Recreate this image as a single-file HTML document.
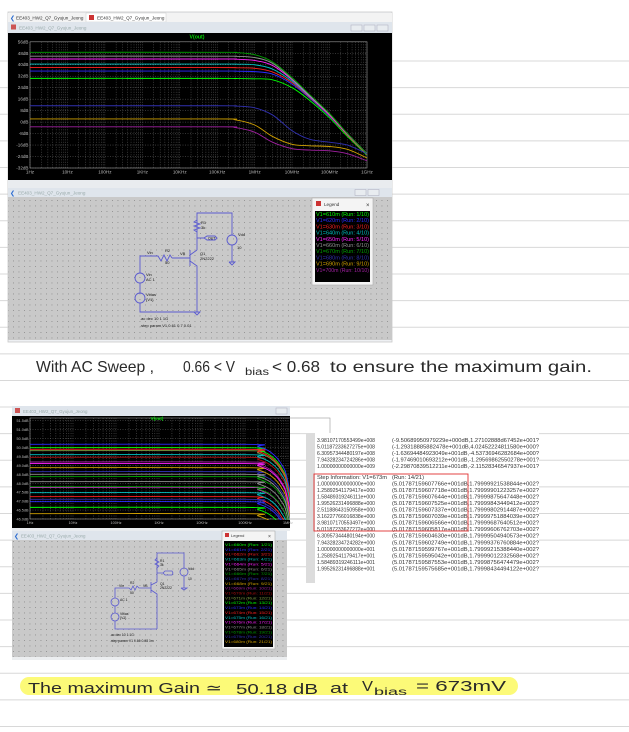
<!DOCTYPE html>
<html><head><meta charset="utf-8">
<style>
html,body{margin:0;padding:0;background:#fff;}
svg{display:block;font-family:"Liberation Sans",sans-serif;}
</style></head>
<body>
<svg id="pg" width="629" height="732" viewBox="0 0 629 732" xmlns="http://www.w3.org/2000/svg">
<defs>
<pattern id="dots" x="0" y="0" width="5.5" height="5.5" patternUnits="userSpaceOnUse"><rect x="2" y="2" width="0.9" height="0.9" fill="#8a8a8a"/></pattern>
<clipPath id="clipTop"><rect x="30" y="33" width="337" height="147"/></clipPath>
<clipPath id="clipBot"><rect x="30" y="416" width="260" height="104"/></clipPath>
<clipPath id="clipTbl"><rect x="306" y="433" width="233" height="150"/></clipPath>
</defs>
<g id="rules"></g>

<!-- TOP WINDOW -->
<g>
<rect x="8" y="12" width="384" height="330" fill="#eef0f3" stroke="#c9c9c9" stroke-width="0.8"/>
<rect x="8" y="13" width="384" height="9" fill="#f3f3f3"/>
<text x="10" y="20" font-size="6" fill="#2a6bd0">❮</text>
<text x="16" y="19.5" font-size="4.6" fill="#333">EE403_HW2_Q7_Gyujun_Jeong</text>
<rect x="86" y="13" width="80" height="9" fill="#fff" stroke="#ccc" stroke-width="0.5"/>
<rect x="89" y="15" width="5" height="5" fill="#c33"/>
<text x="97" y="19.5" font-size="4.6" fill="#333">EE403_HW2_Q7_Gyujun_Jeong</text>
<rect x="8" y="22" width="384" height="11" fill="#dfe5ec"/>
<rect x="11" y="24.5" width="5" height="5" fill="#c55"/>
<text x="19" y="29.5" font-size="4.6" fill="#9aa">EE403_HW2_Q7_Gyujun_Jeong</text>
<g>
<rect x="351" y="25" width="11" height="6" fill="#e8ecf0" stroke="#aab" stroke-width="0.5"/>
<rect x="364" y="25" width="11" height="6" fill="#e8ecf0" stroke="#aab" stroke-width="0.5"/>
<rect x="377" y="25" width="11" height="6" fill="#e8ecf0" stroke="#aab" stroke-width="0.5"/>
</g>
<rect x="8" y="33" width="384" height="147" fill="#000"/>
<g id="topPlot"></g>
<rect x="8" y="180" width="384" height="8" fill="#e9ecef"/>
<rect x="8" y="188" width="384" height="9" fill="#dfe5ec"/>
<text x="10" y="195" font-size="6" fill="#2a6bd0">❮</text>
<text x="18" y="194.5" font-size="4.6" fill="#9aa">EE403_HW2_Q7_Gyujun_Jeong</text>
<rect x="355" y="189.5" width="11" height="6" fill="#e8ecf0" stroke="#aab" stroke-width="0.5"/>
<rect x="368" y="189.5" width="11" height="6" fill="#e8ecf0" stroke="#aab" stroke-width="0.5"/>
<rect x="8" y="197" width="384" height="143" fill="#c9c9c9"/>
<rect x="8" y="197" width="384" height="143" fill="url(#dots)"/>
<g stroke="#5a5ad0" stroke-width="0.9" fill="none">
<polyline points="197,250 197,213 232,213 232,235"/>
<circle cx="232" cy="240" r="5"/>
<polyline points="232,245 232,262"/>
<polyline points="229,262 235,262 232,265 229,262"/>
<polyline points="197,220 194,222 200,224 194,226 200,228 194,230 197,232"/>
<polyline points="190,250 190,266"/>
<polyline points="190,255 197,250"/><polyline points="190,261 197,266 197,312"/>
<polyline points="190,258 172,258"/>
<polyline points="172,258 170,255 167,261 164,255 161,261 158,256 150,256 140,256 140,273"/>
<circle cx="140" cy="278" r="5"/><polyline points="140,283 140,293"/>
<circle cx="140" cy="298" r="5"/><polyline points="140,303 140,312 197,312"/>
<polyline points="194,312 200,312 197,315 194,312"/>
<polyline points="197,238 204,238 207,236 215,236 217,238 215,240 207,240 204,238"/>
</g>
<g font-size="4" fill="#111">
<text x="201" y="224">R1</text><text x="201" y="229">3k</text>
<text x="208" y="239.5" font-size="3.6">OUT</text>
<text x="238" y="236">Vdd</text><text x="237" y="249">10</text>
<text x="200" y="255">Q1</text><text x="200" y="260">2N2222</text>
<text x="165" y="252">R2</text><text x="165" y="264">50</text>
<text x="180" y="255">VB</text><text x="147" y="254">Vin</text>
<text x="146" y="276">Vin</text><text x="146" y="281">AC 1</text>
<text x="146" y="296">Vbias</text><text x="146" y="301">{V1}</text>
<text x="140" y="320">.ac dec 10 1 1G</text>
<text x="140" y="327">.step param V1 0.61 0.7 0.01</text>
</g>
<g>
<rect x="312" y="198" width="61" height="87" fill="#f4f4f4" stroke="#aaa" stroke-width="0.6"/>
<rect x="316" y="201" width="5" height="5" fill="#c33"/>
<text x="324" y="206" font-size="4.6" fill="#333">Legend</text>
<text x="366" y="207" font-size="6" fill="#333">×</text>
<rect x="315" y="211" width="55" height="71" fill="#000"/>
<g id="topLegendRows"></g>
</g>
</g>

<!-- handwritten sentence 1 -->
<g fill="#2a2a2a" font-size="16">
<text x="36" y="372" textLength="118" lengthAdjust="spacingAndGlyphs">With AC Sweep ,</text>
<text x="183" y="372" textLength="52" lengthAdjust="spacingAndGlyphs">0.66 &lt; V</text>
<text x="245" y="375" font-size="10" textLength="24" lengthAdjust="spacingAndGlyphs">bias</text>
<text x="272" y="372" textLength="48" lengthAdjust="spacingAndGlyphs">&lt; 0.68</text>
<text x="330" y="372" textLength="262" lengthAdjust="spacingAndGlyphs">to ensure the maximum gain.</text>
</g>

<!-- BOTTOM PLOT WINDOW -->
<g>
<rect x="12" y="406" width="278" height="10" fill="#dfe5ec"/>
<rect x="15" y="408" width="5" height="5" fill="#c55"/>
<text x="23" y="413" font-size="4.4" fill="#9aa">EE403_HW2_Q7_Gyujun_Jeong</text>
<rect x="276" y="408" width="11" height="6" fill="#e8ecf0" stroke="#aab" stroke-width="0.5"/>
<rect x="12" y="416" width="278" height="112" fill="#000"/>
<g id="botPlot"></g>
<rect x="12" y="528" width="278" height="3" fill="#e9ecef"/>
<rect x="12" y="531" width="275" height="9" fill="#dfe5ec"/>
<text x="14" y="538" font-size="6" fill="#2a6bd0">❮</text>
<text x="21" y="537.5" font-size="4.4" fill="#9aa">EE403_HW2_Q7_Gyujun_Jeong</text>
<rect x="12" y="540" width="275" height="117" fill="#c9c9c9"/>
<rect x="12" y="540" width="275" height="117" fill="url(#dots)"/>
<rect x="12" y="657" width="275" height="3" fill="#eceef0"/>
<g stroke="#5a5ad0" stroke-width="0.8" fill="none">
<polyline points="157,582 157,553 184,553 184,568"/>
<circle cx="184" cy="572" r="4"/><polyline points="184,576 184,588"/>
<polyline points="181,588 187,588 184,590 181,588"/>
<polyline points="157,558 155,560 159,562 155,564 159,566 157,568"/>
<polyline points="151,582 151,593"/><polyline points="151,585 157,582"/><polyline points="151,590 157,594 157,629"/>
<polyline points="151,588 139,588 137,586 135,590 133,586 131,590 129,588 115,588 115,598"/>
<circle cx="115" cy="602" r="4"/><polyline points="115,606 115,613"/>
<circle cx="115" cy="617" r="4"/><polyline points="115,621 115,629 157,629"/>
<polyline points="157,573 163,573 165,571 172,571 173,573 172,575 165,575 163,573"/>
</g>
<g font-size="3.4" fill="#111">
<text x="160" y="562">R1</text><text x="160" y="566">3k</text>
<text x="188" y="570">Vdd</text><text x="188" y="580">10</text>
<text x="160" y="585">Q1</text><text x="160" y="589">2N2222</text>
<text x="130" y="584">R2</text><text x="130" y="594">50</text>
<text x="119" y="587">Vin</text><text x="143" y="587">VB</text>
<text x="120" y="601">AC 1</text><text x="120" y="615">Vbias</text><text x="120" y="619">{V1}</text>
<text x="110" y="636">.ac dec 10 1 1G</text>
<text x="110" y="642">.step param V1 0.66 0.68 1m</text>
</g>
<g>
<rect x="222" y="531" width="53" height="118" fill="#f4f4f4" stroke="#aaa" stroke-width="0.6"/>
<rect x="225" y="533" width="4" height="4" fill="#c33"/>
<text x="231" y="537" font-size="4" fill="#333">Legend</text>
<text x="268" y="538" font-size="5" fill="#333">×</text>
<rect x="224" y="541" width="49" height="106" fill="#000"/>
<g id="botLegendRows"></g>
</g>
</g>

<!-- TABLE SCREENSHOT -->
<g>
<rect x="306" y="433" width="233" height="150" fill="#fff"/>
<rect x="306" y="433" width="9" height="150" fill="#dcdcdc"/>
<g id="tbl" clip-path="url(#clipTbl)" font-size="5.6" fill="#333"></g>
<rect x="314" y="474" width="154" height="57" fill="none" stroke="#e03030" stroke-width="0.9"/>
</g>

<!-- handwritten sentence 2 -->
<rect x="20" y="677" width="498" height="18" rx="9" fill="#fcfa78"/>
<g fill="#2a2a2a" font-size="15">
<text x="28" y="693" textLength="194" lengthAdjust="spacingAndGlyphs">The maximum Gain ≃</text>
<text x="236" y="694" textLength="82" lengthAdjust="spacingAndGlyphs">50.18 dB</text>
<text x="330" y="693" textLength="18" lengthAdjust="spacingAndGlyphs">at</text>
<text x="362" y="691" textLength="11" lengthAdjust="spacingAndGlyphs">V</text>
<text x="374" y="695" font-size="10" textLength="33" lengthAdjust="spacingAndGlyphs">bias</text>
<text x="416" y="691" textLength="90" lengthAdjust="spacingAndGlyphs">= 673mV</text>
</g>
</svg>
<script>
const NS = "http://www.w3.org/2000/svg";
function mk(tag, attrs, parent, txt) {
  const e = document.createElementNS(NS, tag);
  for (const k in attrs) e.setAttribute(k, attrs[k]);
  if (txt !== undefined) e.textContent = txt;
  parent.appendChild(e);
  return e;
}
/* ---------- data: top chart ---------- */
const topFreqs = [1, 1e5, 3e5, 1e6, 3e6, 1e7, 3e7, 1e8, 3e8, 1e9];
const topRunLabels = ["V1=610m (Run: 1/10)","V1=620m (Run: 2/10)","V1=630m (Run: 3/10)","V1=640m (Run: 4/10)","V1=650m (Run: 5/10)","V1=660m (Run: 6/10)","V1=670m (Run: 7/10)","V1=680m (Run: 8/10)","V1=690m (Run: 9/10)","V1=700m (Run: 10/10)"];
const top610 = [30.5, 30.5, 30.4, 30.2, 29.5, 24, 15, 3, -10, -23];
const top620 = [35.6, 35.6, 35.5, 35.2, 33.5, 26.5, 16.5, 4, -9, -22.5];
const top630 = [38, 38, 37.9, 37.5, 35, 27.5, 17, 4.5, -9, -22.5];
const top640 = [40.5, 40.5, 40.4, 40, 37, 28.5, 17.5, 5, -8.5, -22];
const top650 = [44, 44, 43.9, 43, 39.5, 29.5, 18, 5, -8.5, -22];
const top660 = [46, 46, 45.9, 45, 41, 30, 18.5, 5.5, -8, -22];
const top670 = [48.7, 48.7, 48.5, 47, 42, 31, 19, 6, -8, -22];
const top680 = [11.4, 11.4, 11.2, 10, 5, -6, -12, -14, -16, -22];
const top690 = [2.2, 2.2, 1.6, -2, -10, -15.5, -16.5, -17, -19, -25];
const top700 = [-3.3, -3.3, -3.8, -7, -14, -18.5, -19.5, -20, -22, -27];
const topSeries = [top610, top620, top630, top640, top650, top660, top670, top680, top690, top700];
const topYTicks = [56, 48, 40, 32, 24, 16, 8, 0, -8, -16, -24, -32];
const topXTicks = ["1Hz","10Hz","100Hz","1KHz","10KHz","100KHz","1MHz","10MHz","100MHz","1GHz"];
/* ---------- data: bottom chart ---------- */
const botFreqs = [1, 1e5, 2e5, 4e5, 7e5, 1e6, 2e6];
const botRollOff = [0, 0, 0.12, 0.45, 1.1, 2.1, 6];
const botRunLabels = ["V1=660m","V1=661m","V1=662m","V1=663m","V1=664m","V1=665m","V1=666m","V1=667m","V1=668m","V1=669m","V1=670m","V1=671m","V1=672m","V1=673m","V1=674m","V1=675m","V1=676m","V1=677m","V1=678m","V1=679m","V1=680m"];
const botGain = [46.65, 46.97, 47.25, 47.47, 47.77, 48.09, 48.37, 48.65, 48.87, 49.19, 49.45, 49.82, 49.99, 50.18, 49.9, 49.6, 49.1, 48.5, 47.8, 47.1, 46.3];
const botYTicks = [51.5, 51.0, 50.5, 50.0, 49.5, 49.0, 48.5, 48.0, 47.5, 47.0, 46.5, 46.0];
const botXTicks = ["1Hz","10Hz","100Hz","1KHz","10KHz","100KHz","1MHz"];

const palette = ["#00ff00","#2a2aff","#ff2020","#00c0c0","#ff20ff","#909090","#00a000","#3030b0","#d0a000","#a020a0","#b01010","#80a040"];

/* ---------- ruled lines ---------- */
const rules = document.getElementById("rules");
for (let k = 0; ; k++) {
  const y = 61 + 26.62 * k;
  if (y > 732) break;
  const ln = mk("line", {x1: 0, x2: 629, y1: y, y2: y, stroke: "#d8d8d8", "stroke-width": 1}, rules);
  
  
}

/* ---------- generic plot ---------- */
function smoothPath(pts) {
  let d = "M" + pts[0][0].toFixed(2) + "," + pts[0][1].toFixed(2);
  for (let i = 0; i < pts.length - 1; i++) {
    const p0 = pts[Math.max(0, i - 1)], p1 = pts[i], p2 = pts[i + 1], p3 = pts[Math.min(pts.length - 1, i + 2)];
    const c1x = p1[0] + (p2[0] - p0[0]) / 6, c1y = p1[1] + (p2[1] - p0[1]) / 6;
    const c2x = p2[0] - (p3[0] - p1[0]) / 6, c2y = p2[1] - (p3[1] - p1[1]) / 6;
    d += " C" + c1x.toFixed(2) + "," + c1y.toFixed(2) + " " + c2x.toFixed(2) + "," + c2y.toFixed(2) + " " + p2[0].toFixed(2) + "," + p2[1].toFixed(2);
  }
  return d;
}
function drawPlot(g, cfg) {
  const xs = f => cfg.x0 + Math.log10(f) * cfg.dec;
  const ys = v => cfg.yTop + (cfg.yMax - v) * cfg.yScale;
  for (let d = 0; d < cfg.nDec; d++) {
    for (let m = 1; m <= 9; m++) {
      const x = xs(m * Math.pow(10, d));
      if (x > cfg.xClip) continue;
      const gl = mk("line", {x1: x, x2: x, y1: cfg.frameTop, y2: cfg.frameBot, stroke: "#6a6a6a", "stroke-width": 0.5, "stroke-dasharray": "1,1.5"}, g);
      
      
    }
  }
  cfg.yTicks.forEach(v => {
    const y = ys(v);
    const gl = mk("line", {x1: cfg.x0, x2: cfg.xClip, y1: y, y2: y, stroke: "#6a6a6a", "stroke-width": 0.5, "stroke-dasharray": "1,1.5"}, g);
    
    
    const tl = mk("text", {x: cfg.x0 - 1.5, y: y + 1.5, "font-size": cfg.fs, fill: "#bbbbbb", "text-anchor": "end"}, g, cfg.yFmt(v));
    
    
  });
  cfg.xTicks.forEach((lab, i) => {
    const x = xs(Math.pow(10, i));
    const tl = mk("text", {x: x, y: cfg.frameBot + cfg.fs + 1, "font-size": cfg.fs, fill: "#bbbbbb", "text-anchor": "middle"}, g, lab);
    
    
  });
  const fr = mk("rect", {x: cfg.x0, y: cfg.frameTop, width: cfg.frameW, height: cfg.frameBot - cfg.frameTop, fill: "none", stroke: "#9a9a9a", "stroke-width": 0.6}, g);
  
  
  const tt = mk("text", {x: cfg.titleX, y: cfg.titleY, "font-size": cfg.fs + 0.6, fill: "#00e000", "text-anchor": "middle", "font-weight": "bold"}, g, "V(out)");
  
  
  const cg = mk("g", {"clip-path": cfg.clip}, g);
  cfg.series.forEach((vals, i) => {
    const pts = vals.map((v, j) => [xs(cfg.freqs[j]), ys(v)]);
    const p = mk("path", {d: smoothPath(pts), fill: "none", stroke: palette[i % palette.length], "stroke-width": 0.9}, cg);
    
    
  });
}
drawPlot(document.getElementById("topPlot"), {
  x0: 30, dec: 37.44, nDec: 10, xClip: 367, yTop: 41.8, yMax: 56, yScale: 126.2 / 88,
  frameTop: 41.8, frameBot: 168, frameW: 337, fs: 4.6, yTicks: topYTicks, xTicks: topXTicks,
  yFmt: v => v + "dB", titleX: 197, titleY: 38.5, clip: "url(#clipTop)", freqs: topFreqs, series: topSeries
});
const botSeries = botGain.map(g0 => botRollOff.map(r => g0 - r));
drawPlot(document.getElementById("botPlot"), {
  x0: 30, dec: 43, nDec: 7, xClip: 290, yTop: 420.7, yMax: 51.5, yScale: (519 - 420.7) / 5.5,
  frameTop: 418, frameBot: 519, frameW: 300, fs: 3.8, yTicks: botYTicks, xTicks: botXTicks,
  yFmt: v => v.toFixed(1) + "dB", titleX: 157, titleY: 420, clip: "url(#clipBot)", freqs: botFreqs, series: botSeries
});

/* legends */
const tl = document.getElementById("topLegendRows");
topRunLabels.forEach((lab, i) => {
  const t = mk("text", {x: 316, y: 216 + i * 6.2, "font-size": 5, fill: palette[i], textLength: 53, lengthAdjust: "spacingAndGlyphs"}, tl, lab);
  
  
});
const bl = document.getElementById("botLegendRows");
botRunLabels.forEach((lab, i) => {
  const t = mk("text", {x: 225, y: 546 + i * 4.85, "font-size": 4, fill: palette[i % palette.length], textLength: 47, lengthAdjust: "spacingAndGlyphs"}, bl, lab + " (Run: " + (i + 1) + "/21)");
  
  
});

/* table */
const tblRows = [
 ["3.98107170553499e+008","(-9.50689950979229e+000dB,1.27102888d67452e+001?"],
 ["5.01187233627275e+008","(-1.29318885882478e+001dB,4.02452224811580e+000?"],
 ["6.30957344480197e+008","(-1.63694484923049e+001dB,-4.53736946282684e+000?"],
 ["7.94328234724286e+008","(-1.97469010693212e+001dB,-1.29569862550278e+001?"],
 ["1.00000000000000e+009","(-2.29870839512211e+001dB,-2.11528346547937e+001?"],
 ["Step Information: V1=673m","(Run: 14/21)"],
 ["1.00000000000000e+000","(5.01787159607766e+001dB,1.79999921538844e+002?"],
 ["1.25892541179417e+000","(5.01787159607718e+001dB,1.79999901223257e+002?"],
 ["1.58489319246111e+000","(5.01787159607644e+001dB,1.79999875647448e+002?"],
 ["1.99526231496888e+000","(5.01787159607525e+001dB,1.79999843449412e+002?"],
 ["2.51188643150958e+000","(5.01787159607337e+001dB,1.79999802914487e+002?"],
 ["3.16227766016838e+000","(5.01787159607039e+001dB,1.79999751884039e+002?"],
 ["3.98107170553497e+000","(5.01787159606566e+001dB,1.79999687640512e+002?"],
 ["5.01187233627272e+000","(5.01787159605817e+001dB,1.79999606762703e+002?"],
 ["6.30957344480194e+000","(5.01787159604630e+001dB,1.79999504940573e+002?"],
 ["7.94328234724282e+000","(5.01787159602749e+001dB,1.79999376760884e+002?"],
 ["1.00000000000000e+001","(5.01787159599767e+001dB,1.79999215388440e+002?"],
 ["1.25892541179417e+001","(5.01787159595042e+001dB,1.79999012232568e+002?"],
 ["1.58489319246111e+001","(5.01787159587553e+001dB,1.79998756474479e+002?"],
 ["1.99526231496888e+001","(5.01787159575685e+001dB,1.79998434494122e+002?"]
];
const tg = document.getElementById("tbl");
tblRows.forEach((r, i) => {
  const y = 442 + i * 6.55 + (i >= 5 ? 4 : 0);
  const a = mk("text", {x: 317, y: y, textLength: r[0].startsWith("Step") ? 70 : 58, lengthAdjust: "spacingAndGlyphs"}, tg, r[0]);
  
  
  const b = mk("text", {x: 392, y: y, textLength: r[1].startsWith("(Run") ? 32 : 147, lengthAdjust: "spacingAndGlyphs"}, tg, r[1]);
  
  
});
</script>
</body></html>
